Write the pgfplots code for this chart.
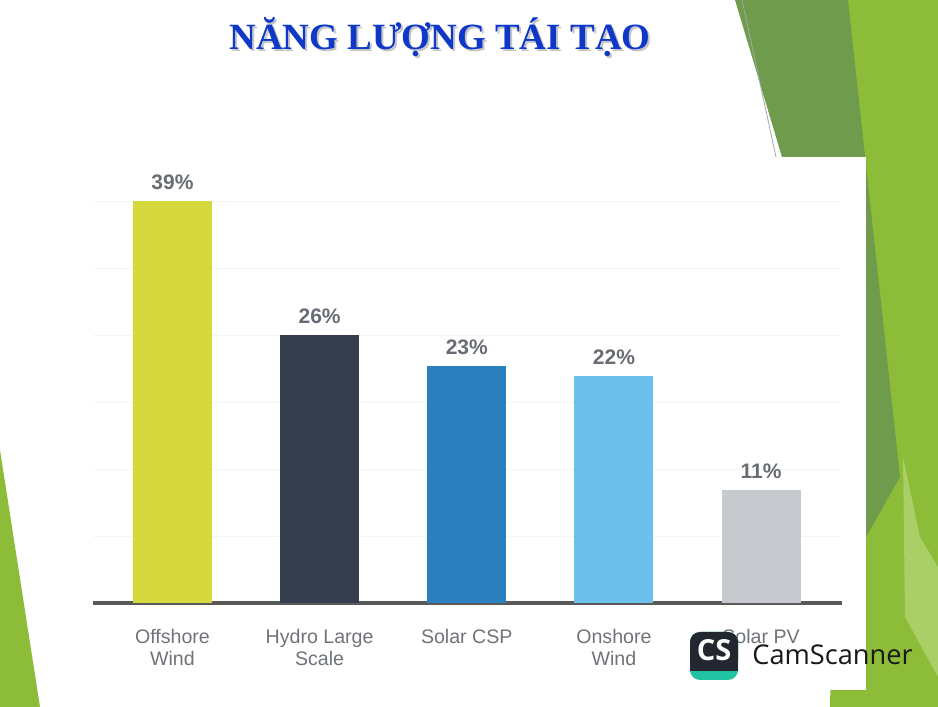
\documentclass[border=0pt]{standalone}
\usepackage{fontspec}
\setmainfont{Liberation Sans}
\newfontfamily\titlefont{Liberation Serif}
\newfontfamily\csfont{Open Sans}
\usepackage{pgfplots}
\pgfplotsset{compat=1.18}
\definecolor{cOff}{HTML}{D5D93D}
\definecolor{cHyd}{HTML}{343D4C}
\definecolor{cCSP}{HTML}{2B80C0}
\definecolor{cOn}{HTML}{6CC1EC}
\definecolor{cPV}{HTML}{C6C9CE}
\definecolor{lblgray}{HTML}{707479}
\definecolor{numgray}{HTML}{686C73}
\definecolor{titleblue}{HTML}{0F38C8}
\definecolor{gLight}{HTML}{8CBC38}
\definecolor{gDark}{HTML}{6E9C4C}
\definecolor{gPale}{HTML}{A9CF66}
\definecolor{csDark}{HTML}{23272F}
\definecolor{csTeal}{HTML}{22C3A2}
\begin{document}
\begin{tikzpicture}[x=0.5pt,y=0.5pt]
\useasboundingbox (0,0) rectangle (938,707);
\fill[white] (0,0) rectangle (938,707);
% decorative slide background
\fill[gLight] (845,707) -- (938,707) -- (938,0) -- (830,0) -- cycle;
\fill[gDark] (735,707) -- (848,707) -- (900,230) -- (866,170) -- (782,550) -- cycle;
\fill[gPale] (903,250) -- (920,170) -- (938,140) -- (938,30) -- (905,90) -- cycle;
\fill[gLight] (0,257) -- (40,0) -- (0,0) -- cycle;
\draw[black!35, line width=0.4pt] (742,707) -- (776,550);
% white chart panel
\fill[white] (65,17) rectangle (866,550);
% title
\node[font=\titlefont\bfseries\fontsize{18.5}{20}\selectfont, text=black!45, opacity=0.5] at (442,668) {NĂNG LƯỢNG TÁI TẠO};
\node[font=\titlefont\bfseries\fontsize{18.5}{20}\selectfont, text=titleblue] at (440,670) {NĂNG LƯỢNG TÁI TẠO};
\begin{axis}[
  at={(46.5pt,52pt)}, anchor=south west,
  scale only axis, width=374.5pt, height=216.5pt,
  xmin=-0.54, xmax=4.55, ymin=0, ymax=42,
  axis x line*=bottom, axis y line*=left,
  x axis line style={-, draw=black!65, line width=1.5pt},
  y axis line style={draw=none},
  xtick={0,1,2,3,4},
  xticklabels={{Offshore\\Wind},{Hydro Large\\Scale},{Solar CSP},{Onshore\\Wind},{Solar PV}},
  xticklabel style={align=center, text=lblgray, font=\fontsize{9.8}{11}\selectfont, yshift=-9.5pt},
  major tick length=0pt,
  ytick={6.5,13,19.5,26,32.5,39}, yticklabels={},
  ymajorgrids, major grid style={black!4},
  /pgf/number format/assume math mode=true,
  ybar, bar shift=0pt, bar width=39.5pt,
  nodes near coords={\pgfmathprintnumber{\pgfplotspointmeta}\%},
  every node near coord/.append style={font=\bfseries\fontsize{10.5}{12}\selectfont, text=numgray, yshift=2pt},
]
\addplot[fill=cOff, draw=none] coordinates {(0,39)};
\addplot[fill=cHyd, draw=none] coordinates {(1,26)};
\addplot[fill=cCSP, draw=none] coordinates {(2,23)};
\addplot[fill=cOn, draw=none] coordinates {(3,22)};
\addplot[fill=cPV, draw=none] coordinates {(4,11)};
\end{axis}
% CamScanner watermark
\fill[csTeal, rounded corners=5pt] (690,27) rectangle (738,75);
\fill[csDark, rounded corners=5pt] (690,36) rectangle (738,75);
\fill[csDark] (690,36) rectangle (738,45);
\node[font=\csfont\bfseries\fontsize{14.5}{16}\selectfont, text=white] at (714,57) {CS};
\node[font=\csfont\fontsize{13.6}{16}\selectfont, anchor=west, text=black!90, inner sep=0pt] at (752,52) {CamScanner};
\end{tikzpicture}
\end{document}
